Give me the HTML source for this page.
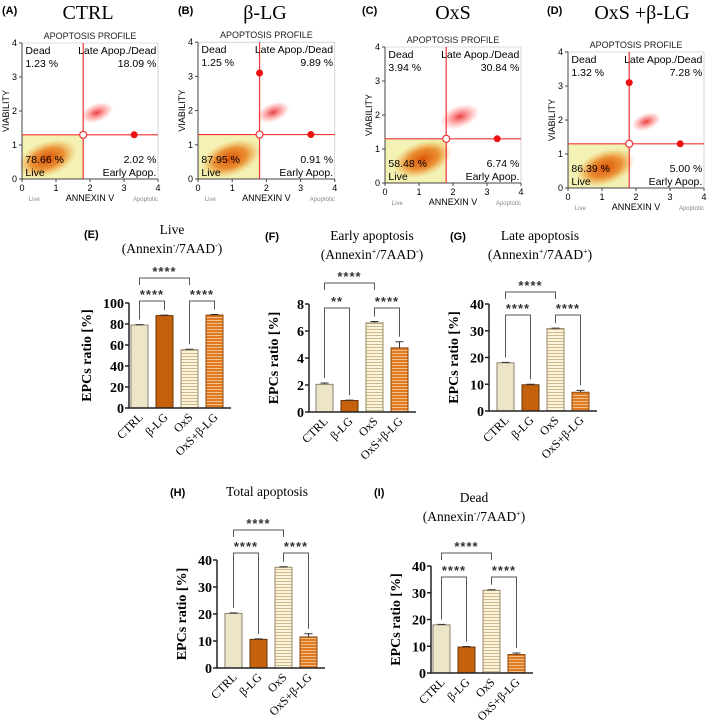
<!DOCTYPE html>
<html><head><meta charset="utf-8"><style>
body{margin:0;background:#fff}
svg{display:block}
.s{font-family:"Liberation Sans",sans-serif}
.r{font-family:"Liberation Serif",serif}
</style></head><body>
<svg id="fig" width="709" height="723" viewBox="0 0 709 723" xmlns="http://www.w3.org/2000/svg">
<defs>
<pattern id="stripeLight" width="4" height="3" patternUnits="userSpaceOnUse"><rect width="4" height="3" fill="#fbf4dc"/><rect y="2" width="4" height="1" fill="#cdb98a"/></pattern>
<pattern id="stripeOrange" width="4" height="3" patternUnits="userSpaceOnUse"><rect width="4" height="3" fill="#e07a22"/><rect y="2" width="4" height="1" fill="#f6c08a"/></pattern>
<radialGradient id="cloud"><stop offset="0" stop-color="#d84a00" stop-opacity="0.95"/><stop offset="0.55" stop-color="#e8700a" stop-opacity="0.75"/><stop offset="1" stop-color="#f0a030" stop-opacity="0"/></radialGradient>
<radialGradient id="cloudR"><stop offset="0" stop-color="#e01010" stop-opacity="0.8"/><stop offset="0.6" stop-color="#ff4040" stop-opacity="0.35"/><stop offset="1" stop-color="#ff6060" stop-opacity="0"/></radialGradient>
</defs>
</svg>
<script>
// ---------- flow panels data ----------
const flowTitles = ["CTRL", "β-LG", "OxS", "OxS +β-LG"];
const flowLetters = ["(A)", "(B)", "(C)", "(D)"];
const deadPct = ["1.23 %", "1.25 %", "3.94 %", "1.32 %"];
const latePct = ["18.09 %", "9.89 %", "30.84 %", "7.28 %"];
const livePct = ["78.66 %", "87.95 %", "58.48 %", "86.39 %"];
const earlyPct = ["2.02 %", "0.91 %", "6.74 %", "5.00 %"];
const liveCloudX = [0.75, 0.95, 1.1, 1.1];
const liveCloudY = [0.6, 0.6, 0.7, 0.6];
const lateCloudX = [2.2, 2.2, 2.2, 2.3];
const lateCloudY = [1.95, 1.95, 1.95, 1.95];
const lateCloudSize = [0.5, 0.5, 0.6, 0.45];
const gateX = [1.8, 1.8, 1.8, 1.8];
const gateY = [1.3, 1.3, 1.3, 1.3];
const extraDotY = [null, 3.1, null, 3.1];

// ---------- bar data ----------
const categories = ["CTRL", "β-LG", "OxS", "OxS+β-LG"];
const liveVals = [79, 88, 55.5, 88.5];
const liveErr = [0.4, 0.4, 0.4, 0.6];
const earlyVals = [2.05, 0.85, 6.6, 4.75];
const earlyErr = [0.1, 0.03, 0.1, 0.45];
const lateVals = [18, 9.8, 30.8, 7];
const lateErr = [0.2, 0.2, 0.2, 0.7];
const totalVals = [20.2, 10.6, 37.3, 11.5];
const totalErr = [0.2, 0.2, 0.2, 1.2];
const deadVals = [18, 9.7, 30.9, 6.9];
const deadErr = [0.2, 0.2, 0.2, 0.6];
const liveTicks = [0, 20, 40, 60, 80, 100];
const earlyTicks = [0, 2, 4, 6, 8];
const fortyTicks = [0, 10, 20, 30, 40];
const sigLive = ["****", "****", "****"];
const sigEarly = ["****", "**", "****"];
const sigOther = ["****", "****", "****"];

const NS = "http://www.w3.org/2000/svg";
const svg = document.getElementById("fig");
function mk(tag, attrs, parent, text) {
  const e = document.createElementNS(NS, tag);
  for (const k in attrs) e.setAttribute(k, attrs[k]);
  if (text !== undefined) e.textContent = text;
  (parent || svg).appendChild(e);
  return e;
}

// ---------- flow panels ----------
const flowLayout = [
  {ax: 22, ay0: 179, s: 34, tx: 88, lx: 2},
  {ax: 198, ay0: 179, s: 34.2, tx: 265, lx: 178},
  {ax: 385, ay0: 183, s: 34, tx: 453, lx: 362},
  {ax: 568, ay0: 188, s: 34, tx: 642, lx: 547}
];
flowLayout.forEach((L, i) => {
  const g = mk("g", {}, svg);
  
  
  const X = v => L.ax + v * L.s, Y = v => L.ay0 - v * L.s;
  const t1 = mk("text", {x: L.lx, y: 14, class: "s", "font-size": 11, "font-weight": "bold"}, g, flowLetters[i]);
   
  const t2 = mk("text", {x: L.tx, y: 19, class: "r", "font-size": 20, "text-anchor": "middle"}, g, flowTitles[i]);
   
  const t3 = mk("text", {x: X(2), y: Y(4) - 4, class: "s", "font-size": 9, "text-anchor": "middle", fill: "#222"}, g, "APOPTOSIS PROFILE");
   
  const lf = mk("rect", {x: X(0), y: Y(gateY[i]), width: X(gateX[i]) - X(0), height: Y(0) - Y(gateY[i]), fill: "#f3f1b4"}, g);
   
  const c1 = mk("ellipse", {cx: X(liveCloudX[i]), cy: Y(liveCloudY[i]), rx: 0.9 * L.s, ry: 0.5 * L.s, fill: "url(#cloud)", transform: `rotate(-20 ${X(liveCloudX[i])} ${Y(liveCloudY[i])})`}, g);
   
  const c2 = mk("ellipse", {cx: X(lateCloudX[i]), cy: Y(lateCloudY[i]), rx: lateCloudSize[i] * L.s, ry: lateCloudSize[i] * 0.55 * L.s, fill: "url(#cloudR)", transform: `rotate(-20 ${X(lateCloudX[i])} ${Y(lateCloudY[i])})`}, g);
   
  const fr = mk("path", {d: `M${X(0)} ${Y(4)} V${Y(0)} H${X(4)}`, fill: "none", stroke: "#444", "stroke-width": 1}, g);
   
  mk("path", {d: `M${X(0)} ${Y(4)} H${X(4)} V${Y(0)}`, fill: "none", stroke: "#bbb", "stroke-width": 0.6}, g);
  for (let v = 0; v <= 4; v++) {
    mk("line", {x1: X(0) - 3, x2: X(0), y1: Y(v), y2: Y(v), stroke: "#444"}, g);
    mk("line", {x1: X(v), x2: X(v), y1: Y(0), y2: Y(0) + 3, stroke: "#444"}, g);
    mk("text", {x: X(0) - 5, y: Y(v) + 3, class: "s", "font-size": 9, "text-anchor": "end"}, g, v);
    mk("text", {x: X(v), y: Y(0) + 12, class: "s", "font-size": 9, "text-anchor": "middle"}, g, v);
  }
  const vy = mk("text", {x: X(0) - 13, y: Y(2), class: "s", "font-size": 9, "text-anchor": "middle", transform: `rotate(-90 ${X(0) - 13} ${Y(2)})`}, g, "VIABILITY");
   
  const ax = mk("text", {x: X(2), y: Y(0) + 22, class: "s", "font-size": 9, "text-anchor": "middle"}, g, "ANNEXIN V");
   
  mk("text", {x: X(0.2), y: Y(0) + 22, class: "s", "font-size": 6, fill: "#888"}, g, "Live");
  mk("text", {x: X(4), y: Y(0) + 22, class: "s", "font-size": 6, fill: "#888", "text-anchor": "end"}, g, "Apoptotic");
  mk("line", {x1: X(gateX[i]), x2: X(gateX[i]), y1: Y(4), y2: Y(0), stroke: "#ee3333", "stroke-width": 1.2}, g);
  mk("line", {x1: X(0), x2: X(4), y1: Y(gateY[i]), y2: Y(gateY[i]), stroke: "#ee3333", "stroke-width": 1.2}, g);
  const gh = mk("circle", {cx: X(gateX[i]), cy: Y(gateY[i]), r: 3.5, fill: "#fff", stroke: "#ee3333", "stroke-width": 1.2}, g);
   
  const rh = mk("circle", {cx: X(3.3), cy: Y(gateY[i]), r: 3.5, fill: "#ee1111"}, g);
   
  if (extraDotY[i] !== null) {
    const th = mk("circle", {cx: X(gateX[i]), cy: Y(extraDotY[i]), r: 3.5, fill: "#ee1111"}, g);
     
  }
  const fs = 10.5;
  mk("text", {x: X(0.1), y: Y(4) + 11, class: "s", "font-size": fs}, g, "Dead");
  mk("text", {x: X(0.1), y: Y(4) + 24, class: "s", "font-size": fs}, g, deadPct[i]);
  mk("text", {x: X(3.95), y: Y(4) + 11, class: "s", "font-size": fs, "text-anchor": "end"}, g, "Late Apop./Dead");
  mk("text", {x: X(3.95), y: Y(4) + 24, class: "s", "font-size": fs, "text-anchor": "end"}, g, latePct[i]);
  mk("text", {x: X(0.1), y: Y(0) - 16, class: "s", "font-size": fs}, g, livePct[i]);
  mk("text", {x: X(0.1), y: Y(0) - 3, class: "s", "font-size": fs}, g, "Live");
  mk("text", {x: X(3.95), y: Y(0) - 16, class: "s", "font-size": fs, "text-anchor": "end"}, g, earlyPct[i]);
  mk("text", {x: X(3.95), y: Y(0) - 3, class: "s", "font-size": fs, "text-anchor": "end"}, g, "Early Apop.");
});

// ---------- bar panels ----------
const fills = ["#ede5c8", "#c5600c", "url(#stripeLight)", "url(#stripeOrange)"];
const strokes = ["#8a8470", "#6a3306", "#9a8a66", "#8a4508"];
const barPanels = [
  {name: "live", letter: "(E)", t1: "Live", t2: ["(Annexin", "-", "/7AAD", "-", ")"], vals: liveVals, err: liveErr, ticks: liveTicks, sig: sigLive,
   ax: 129, top: 303, bot: 408, b0: 131, lx: 84, ly: 238, tcx: 172, tty: 234, upY: 278, loY: 301},
  {name: "early", letter: "(F)", t1: "Early apoptosis", t2: ["(Annexin", "+", "/7AAD", "-", ")"], vals: earlyVals, err: earlyErr, ticks: earlyTicks, sig: sigEarly,
   ax: 309, top: 304, bot: 412, b0: 316, lx: 265, ly: 240, tcx: 372, tty: 240, upY: 283, loY: 308},
  {name: "late", letter: "(G)", t1: "Late apoptosis", t2: ["(Annexin", "+", "/7AAD", "+", ")"], vals: lateVals, err: lateErr, ticks: fortyTicks, sig: sigOther,
   ax: 489, top: 304, bot: 411, b0: 497, lx: 450, ly: 240, tcx: 540, tty: 240, upY: 292, loY: 315},
  {name: "total", letter: "(H)", t1: "Total apoptosis", t2: null, vals: totalVals, err: totalErr, ticks: fortyTicks, sig: sigOther,
   ax: 217, top: 560, bot: 668, b0: 225, lx: 170, ly: 496, tcx: 267, tty: 496, upY: 530, loY: 553},
  {name: "dead", letter: "(I)", t1: "Dead", t2: ["(Annexin", "-", "/7AAD", "+", ")"], vals: deadVals, err: deadErr, ticks: fortyTicks, sig: sigOther,
   ax: 431, top: 566, bot: 673, b0: 433, lx: 374, ly: 496, tcx: 474, tty: 502, upY: 553, loY: 577}
];
barPanels.forEach(P => {
  const g = mk("g", {}, svg);
  
  
  const maxT = P.ticks[P.ticks.length - 1];
  const Y = v => P.bot - (v / maxT) * (P.bot - P.top);
  const bw = 17, step = 25;
  const BX = i => P.b0 + i * step;
  const CX = i => BX(i) + bw / 2;
  const lt = mk("text", {x: P.lx, y: P.ly, class: "s", "font-size": 11, "font-weight": "bold"}, g, P.letter);
   
  const tt = mk("text", {x: P.tcx, y: P.tty, class: "r", "font-size": 13.5, "text-anchor": "middle"}, g, P.t1);
   
  if (P.t2) {
    const st = mk("text", {x: P.tcx, y: P.tty + 19, class: "r", "font-size": 13.5, "text-anchor": "middle"}, g);
     
    P.t2.forEach((p, k) => {
      mk("tspan", k % 2 ? {"font-size": 8, dy: -5} : (k > 0 ? {"font-size": 13.5, dy: 5} : {}), st, p);
    });
  }
  P.vals.forEach((v, i) => {
    const b = mk("rect", {x: BX(i), y: Y(v), width: bw, height: P.bot - Y(v), fill: fills[i], stroke: strokes[i], "stroke-width": 1}, g);
    
    
    const e = P.err[i];
    mk("path", {d: `M${CX(i)} ${Y(v)} V${Y(v + e)} M${CX(i) - 4} ${Y(v + e)} H${CX(i) + 4}`, stroke: "#333", "stroke-width": 1, fill: "none"}, g);
    const cl = mk("text", {x: CX(i) + 4, y: P.bot + 10, class: "r", "font-size": 12, "text-anchor": "end", transform: `rotate(-45 ${CX(i) + 4} ${P.bot + 10})`}, g, categories[i]);
     
  });
  const axl = mk("path", {d: `M${P.ax} ${P.top} V${P.bot} H${P.b0 + 3 * step + bw + 8}`, stroke: "#222", "stroke-width": 1.5, fill: "none"}, g);
   
  P.ticks.forEach(t => {
    mk("line", {x1: P.ax - 4, x2: P.ax, y1: Y(t), y2: Y(t), stroke: "#222", "stroke-width": 1.5}, g);
    const tl = mk("text", {x: P.ax - 5, y: Y(t) + 5, class: "r", "font-size": 14, "font-weight": "bold", "text-anchor": "end"}, g, t);
     
  });
  const yx = P.ax - (maxT >= 100 ? 38 : 31), yy = (P.top + P.bot) / 2;
  const ya = mk("text", {x: yx, y: yy, class: "r", "font-size": 14, "font-weight": "bold", "text-anchor": "middle", transform: `rotate(-90 ${yx} ${yy})`}, g, "EPCs ratio [%]");
   
  const tipY = i => Y(P.vals[i] + P.err[i]) - 5;
  const br = (a, b, y, ya2, yb2, label, name) => {
    const p = mk("path", {d: `M${CX(a)} ${ya2} V${y} H${CX(b)} V${yb2}`, stroke: "#555", "stroke-width": 1, fill: "none"}, g);
     
    mk("text", {x: (CX(a) + CX(b)) / 2, y: y - 2, class: "s", "font-size": 13, "font-weight": "bold", "letter-spacing": 1, "text-anchor": "middle", fill: "#333"}, g, label);
  };
  br(0, 2, P.upY, P.upY + 7, P.upY + 7, P.sig[0], 'sig-bracket-ctrl-oxs');
  br(0, 1, P.loY, tipY(0), tipY(1), P.sig[1], 'sig-bracket-ctrl-blg');
  br(2, 3, P.loY, tipY(2), tipY(3), P.sig[2], 'sig-bracket-oxs-combo');
});
</script>
</body></html>
